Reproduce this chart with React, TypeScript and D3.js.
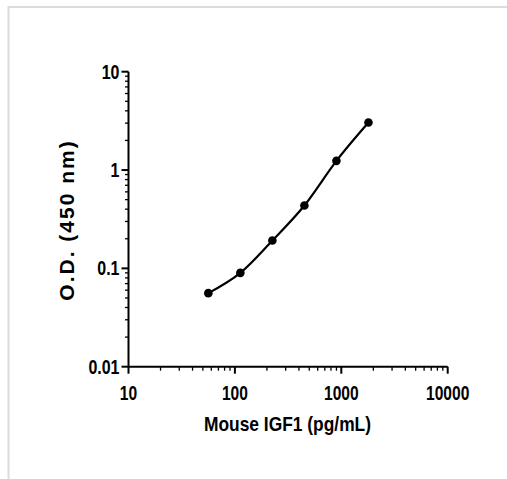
import React from "react";
import * as d3 from "d3";

const concentrations = [56.25, 112.5, 225, 450, 900, 1800];
const odValues = [0.056, 0.09, 0.192, 0.436, 1.24, 3.04];
const xTickValues = [10, 100, 1000, 10000];
const xTickLabels = ["10", "100", "1000", "10000"];
const yTickValues = [0.01, 0.1, 1, 10];
const yTickLabels = ["0.01", "0.1", "1", "10"];
const xTitle = "Mouse IGF1 (pg/mL)";
const yTitle = "O.D. (450 nm)";

const W = 507;
const H = 479;

export default function App() {
  const x = d3.scaleLog().domain([10, 10000]).range([128.5, 447.7]);
  const y = d3.scaleLog().domain([0.01, 10]).range([366.7, 71.7]);

  const xMinor: number[] = [];
  for (let d = 10; d < 10000; d *= 10) for (let k = 2; k <= 9; k++) xMinor.push(d * k);
  const yMinor: number[] = [];
  for (let d = 0.01; d < 9; d *= 10) for (let k = 2; k <= 9; k++) yMinor.push(d * k);

  const pts = concentrations.map((c, i) => [x(c), y(odValues[i])] as [number, number]);
  const line = d3.line().curve(d3.curveMonotoneX)(pts) || "";

  const font = "'Liberation Sans', Arial, sans-serif";
  const x0 = x.range()[0];
  const y0 = y.range()[0];

  return (
    <svg
      width={W}
      height={H}
      style={{ position: "fixed", left: 0, top: 0, background: "#fff" }}
      fontFamily={font}
    >
      <rect x={0} y={0} width={W} height={H} fill="#fff" />
      <path d={`M8.5,${H} V7 H${W}`} fill="none" stroke="#dcdcdc" strokeWidth={2} />

      {/* y axis */}
      <line x1={x0} x2={x0} y1={y(10)} y2={y0} stroke="#000" strokeWidth={2} />
      {yMinor.map((v, i) => (
        <line key={"ym" + i} x1={x0 - 3.5} x2={x0} y1={y(v)} y2={y(v)} stroke="#000" strokeWidth={1.3} />
      ))}
      {yTickValues.map((v, i) => (
        <g key={"yt" + i}>
          <line x1={x0 - 7} x2={x0} y1={y(v)} y2={y(v)} stroke="#000" strokeWidth={2} />
          <g transform={`translate(${x0 - 9},${y(v) + 7}) scale(0.82,1)`}>
            <text textAnchor="end" fontSize={19.5} fontWeight="bold" fill="#000">
              {yTickLabels[i]}
            </text>
          </g>
        </g>
      ))}

      {/* x axis */}
      <line x1={x0} x2={x(10000)} y1={y0} y2={y0} stroke="#000" strokeWidth={2} />
      {xMinor.map((v, i) => (
        <line key={"xm" + i} x1={x(v)} x2={x(v)} y1={y0} y2={y0 + 4} stroke="#000" strokeWidth={1.3} />
      ))}
      {xTickValues.map((v, i) => (
        <g key={"xt" + i}>
          <line x1={x(v)} x2={x(v)} y1={y0} y2={y0 + 7} stroke="#000" strokeWidth={2} />
          <g transform={`translate(${x(v)},${y0 + 33.5}) scale(0.8,1)`}>
            <text textAnchor="middle" fontSize={19.5} fontWeight="bold" fill="#000">
              {xTickLabels[i]}
            </text>
          </g>
        </g>
      ))}

      {/* titles */}
      <text
        x={287.5}
        y={430.5}
        textAnchor="middle"
        fontSize={21}
        fontWeight="bold"
        textLength={167}
        lengthAdjust="spacingAndGlyphs"
        fill="#000"
      >
        {xTitle}
      </text>
      <text
        transform="translate(73.5,220) rotate(-90)"
        textAnchor="middle"
        fontSize={21}
        fontWeight="bold"
        letterSpacing={2}
        fill="#000"
      >
        {yTitle}
      </text>

      {/* curve and points */}
      <path d={line} fill="none" stroke="#000" strokeWidth={2.2} />
      {pts.map((p, i) => (
        <circle key={"p" + i} cx={p[0]} cy={p[1]} r={4.3} fill="#000" />
      ))}
    </svg>
  );
}
